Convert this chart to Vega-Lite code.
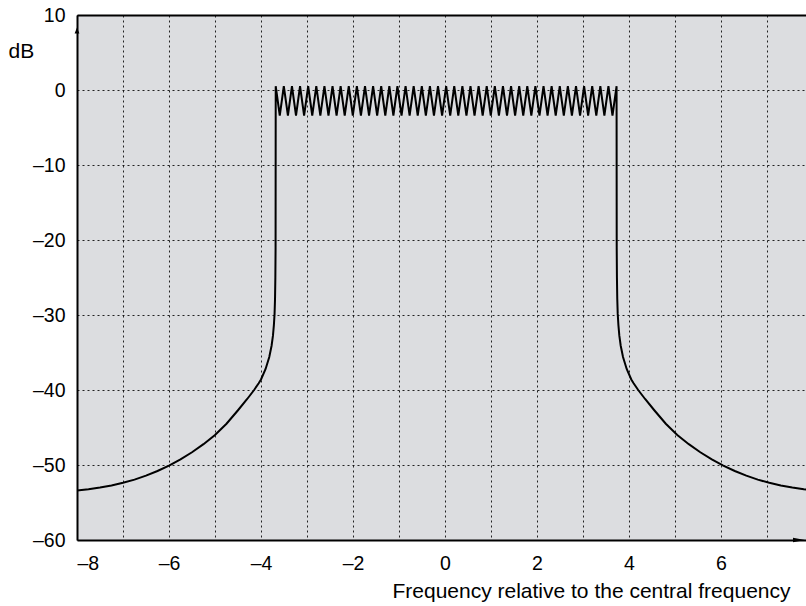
{
  "$schema": "https://vega.github.io/schema/vega-lite/v6.json",
  "autosize": {"type": "none"},
  "padding": {"left": 77, "top": 15, "right": 0, "bottom": 66},
  "width": 729,
  "height": 525,
  "config": {
    "view": {"fill": "#dcdde0", "stroke": null},
    "font": "Liberation Sans",
    "axis": {
      "gridColor": "#000000",
      "gridDash": [2, 3],
      "gridWidth": 1,
      "gridOpacity": 0.85,
      "ticks": false,
      "domainColor": "#000000",
      "domainWidth": 2,
      "labelFontSize": 19.5,
      "labelColor": "#000000",
      "titleFontSize": 21,
      "titleFontWeight": "normal",
      "titleColor": "#000000",
      "labelOverlap": false
    }
  },
  "layer": [
    {
      "data": {
        "values": [
          {"o": 1, "x": -8, "y": -53.4},
          {"o": 2, "x": -7.75, "y": -53.225},
          {"o": 3, "x": -7.5, "y": -53.0},
          {"o": 4, "x": -7.25, "y": -52.725},
          {"o": 5, "x": -7, "y": -52.375},
          {"o": 6, "x": -6.75, "y": -51.95},
          {"o": 7, "x": -6.5, "y": -51.425},
          {"o": 8, "x": -6.25, "y": -50.8},
          {"o": 9, "x": -6, "y": -50.075},
          {"o": 10, "x": -5.75, "y": -49.25},
          {"o": 11, "x": -5.5, "y": -48.3},
          {"o": 12, "x": -5.25, "y": -47.225},
          {"o": 13, "x": -5, "y": -46.0},
          {"o": 14, "x": -4.75, "y": -44.5},
          {"o": 15, "x": -4.5, "y": -42.7},
          {"o": 16, "x": -4.3, "y": -41.2},
          {"o": 17, "x": -4.15, "y": -40.0},
          {"o": 18, "x": -4.05, "y": -39.1},
          {"o": 19, "x": -4.0, "y": -38.6},
          {"o": 20, "x": -3.9, "y": -37.2},
          {"o": 21, "x": -3.82, "y": -35.6},
          {"o": 22, "x": -3.77, "y": -34.1},
          {"o": 23, "x": -3.74, "y": -32.75},
          {"o": 24, "x": -3.72, "y": -31.35},
          {"o": 25, "x": -3.705, "y": -29.85},
          {"o": 26, "x": -3.695, "y": -27.85},
          {"o": 27, "x": -3.688, "y": -25.05},
          {"o": 28, "x": -3.683, "y": -21.05},
          {"o": 100, "x": -3.680, "y": 0.5},
          {"o": 101, "x": -3.592, "y": -3.4},
          {"o": 102, "x": -3.504, "y": 0.5},
          {"o": 103, "x": -3.415, "y": -3.4},
          {"o": 104, "x": -3.327, "y": 0.5},
          {"o": 105, "x": -3.239, "y": -3.4},
          {"o": 106, "x": -3.151, "y": 0.5},
          {"o": 107, "x": -3.063, "y": -3.4},
          {"o": 108, "x": -2.974, "y": 0.5},
          {"o": 109, "x": -2.886, "y": -3.4},
          {"o": 110, "x": -2.798, "y": 0.5},
          {"o": 111, "x": -2.710, "y": -3.4},
          {"o": 112, "x": -2.621, "y": 0.5},
          {"o": 113, "x": -2.533, "y": -3.4},
          {"o": 114, "x": -2.445, "y": 0.5},
          {"o": 115, "x": -2.357, "y": -3.4},
          {"o": 116, "x": -2.269, "y": 0.5},
          {"o": 117, "x": -2.180, "y": -3.4},
          {"o": 118, "x": -2.092, "y": 0.5},
          {"o": 119, "x": -2.004, "y": -3.4},
          {"o": 120, "x": -1.916, "y": 0.5},
          {"o": 121, "x": -1.828, "y": -3.4},
          {"o": 122, "x": -1.739, "y": 0.5},
          {"o": 123, "x": -1.651, "y": -3.4},
          {"o": 124, "x": -1.563, "y": 0.5},
          {"o": 125, "x": -1.475, "y": -3.4},
          {"o": 126, "x": -1.387, "y": 0.5},
          {"o": 127, "x": -1.298, "y": -3.4},
          {"o": 128, "x": -1.210, "y": 0.5},
          {"o": 129, "x": -1.122, "y": -3.4},
          {"o": 130, "x": -1.034, "y": 0.5},
          {"o": 131, "x": -0.945, "y": -3.4},
          {"o": 132, "x": -0.857, "y": 0.5},
          {"o": 133, "x": -0.769, "y": -3.4},
          {"o": 134, "x": -0.681, "y": 0.5},
          {"o": 135, "x": -0.593, "y": -3.4},
          {"o": 136, "x": -0.504, "y": 0.5},
          {"o": 137, "x": -0.416, "y": -3.4},
          {"o": 138, "x": -0.328, "y": 0.5},
          {"o": 139, "x": -0.240, "y": -3.4},
          {"o": 140, "x": -0.152, "y": 0.5},
          {"o": 141, "x": -0.063, "y": -3.4},
          {"o": 142, "x": 0.025, "y": 0.5},
          {"o": 143, "x": 0.113, "y": -3.4},
          {"o": 144, "x": 0.201, "y": 0.5},
          {"o": 145, "x": 0.289, "y": -3.4},
          {"o": 146, "x": 0.378, "y": 0.5},
          {"o": 147, "x": 0.466, "y": -3.4},
          {"o": 148, "x": 0.554, "y": 0.5},
          {"o": 149, "x": 0.642, "y": -3.4},
          {"o": 150, "x": 0.731, "y": 0.5},
          {"o": 151, "x": 0.819, "y": -3.4},
          {"o": 152, "x": 0.907, "y": 0.5},
          {"o": 153, "x": 0.995, "y": -3.4},
          {"o": 154, "x": 1.083, "y": 0.5},
          {"o": 155, "x": 1.172, "y": -3.4},
          {"o": 156, "x": 1.260, "y": 0.5},
          {"o": 157, "x": 1.348, "y": -3.4},
          {"o": 158, "x": 1.436, "y": 0.5},
          {"o": 159, "x": 1.524, "y": -3.4},
          {"o": 160, "x": 1.613, "y": 0.5},
          {"o": 161, "x": 1.701, "y": -3.4},
          {"o": 162, "x": 1.789, "y": 0.5},
          {"o": 163, "x": 1.877, "y": -3.4},
          {"o": 164, "x": 1.965, "y": 0.5},
          {"o": 165, "x": 2.054, "y": -3.4},
          {"o": 166, "x": 2.142, "y": 0.5},
          {"o": 167, "x": 2.230, "y": -3.4},
          {"o": 168, "x": 2.318, "y": 0.5},
          {"o": 169, "x": 2.407, "y": -3.4},
          {"o": 170, "x": 2.495, "y": 0.5},
          {"o": 171, "x": 2.583, "y": -3.4},
          {"o": 172, "x": 2.671, "y": 0.5},
          {"o": 173, "x": 2.759, "y": -3.4},
          {"o": 174, "x": 2.848, "y": 0.5},
          {"o": 175, "x": 2.936, "y": -3.4},
          {"o": 176, "x": 3.024, "y": 0.5},
          {"o": 177, "x": 3.112, "y": -3.4},
          {"o": 178, "x": 3.200, "y": 0.5},
          {"o": 179, "x": 3.289, "y": -3.4},
          {"o": 180, "x": 3.377, "y": 0.5},
          {"o": 181, "x": 3.465, "y": -3.4},
          {"o": 182, "x": 3.553, "y": 0.5},
          {"o": 183, "x": 3.641, "y": -3.4},
          {"o": 184, "x": 3.730, "y": 0.5},
          {"o": 200, "x": 3.733, "y": -21.05},
          {"o": 201, "x": 3.738, "y": -25.05},
          {"o": 202, "x": 3.745, "y": -27.85},
          {"o": 203, "x": 3.755, "y": -29.85},
          {"o": 204, "x": 3.77, "y": -31.35},
          {"o": 205, "x": 3.79, "y": -32.75},
          {"o": 206, "x": 3.82, "y": -34.1},
          {"o": 207, "x": 3.87, "y": -35.6},
          {"o": 208, "x": 3.95, "y": -37.2},
          {"o": 209, "x": 4.05, "y": -38.6},
          {"o": 210, "x": 4.1, "y": -39.1},
          {"o": 211, "x": 4.2, "y": -40.0},
          {"o": 212, "x": 4.35, "y": -41.2},
          {"o": 213, "x": 4.55, "y": -42.7},
          {"o": 214, "x": 4.8, "y": -44.5},
          {"o": 215, "x": 5.05, "y": -46.0},
          {"o": 216, "x": 5.3, "y": -47.225},
          {"o": 217, "x": 5.55, "y": -48.3},
          {"o": 218, "x": 5.8, "y": -49.25},
          {"o": 219, "x": 6.05, "y": -50.075},
          {"o": 220, "x": 6.3, "y": -50.8},
          {"o": 221, "x": 6.55, "y": -51.425},
          {"o": 222, "x": 6.8, "y": -51.95},
          {"o": 223, "x": 7.05, "y": -52.375},
          {"o": 224, "x": 7.3, "y": -52.725},
          {"o": 225, "x": 7.55, "y": -53.0},
          {"o": 226, "x": 7.8, "y": -53.225},
          {"o": 227, "x": 8.05, "y": -53.4}
        ]
      },
      "mark": {"type": "line", "color": "#000000", "strokeWidth": 2, "clip": true},
      "encoding": {
        "x": {
          "field": "x",
          "type": "quantitative",
          "scale": {"domain": [-8, 7.848], "nice": false, "zero": false},
          "axis": {
            "orient": "bottom",
            "values": [-8, -7, -6, -5, -4, -3, -2, -1, 0, 1, 2, 3, 4, 5, 6, 7, 8],
            "grid": true,
            "labelPadding": 14,
            "labelExpr": "datum.value % 2 == 0 ? (datum.value < 0 ? '\u2013' + (-datum.value) : '' + datum.value) : ''",
            "title": "Frequency relative to the central frequency",
            "titleAlign": "right",
            "titleAnchor": "start",
            "titleX": 713,
            "titleY": 57,
            "titleBaseline": "alphabetic"
          }
        },
        "y": {
          "field": "y",
          "type": "quantitative",
          "scale": {"domain": [-60, 10], "nice": false, "zero": false},
          "axis": {
            "values": [-60, -50, -40, -30, -20, -10, 0, 10],
            "grid": true,
            "labelPadding": 12,
            "labelExpr": "datum.value < 0 ? '\u2013' + (-datum.value) : '' + datum.value",
            "title": "dB",
            "titleAngle": 0,
            "titleAlign": "left",
            "titleAnchor": "start",
            "titleX": -69,
            "titleY": 42,
            "titleBaseline": "alphabetic"
          }
        },
        "order": {"field": "o", "type": "quantitative"}
      }
    },
    {
      "data": {"values": [{"x": -8, "y": 7.95, "a": "up"}, {"x": 7.696, "y": -60, "a": "right"}]},
      "mark": {"type": "point", "size": 144, "filled": true, "color": "#000000", "opacity": 1, "clip": false},
      "encoding": {
        "x": {
          "field": "x",
          "type": "quantitative",
          "axis": {"orient": "top", "labels": false, "ticks": false, "grid": false, "domain": true, "domainWidth": 2, "domainColor": "#000000", "title": null}
        },
        "y": {"field": "y", "type": "quantitative"},
        "shape": {
          "field": "a",
          "type": "nominal",
          "scale": {"domain": ["up", "right"], "range": ["M0,-0.5L0.4,0.5L-0.4,0.5Z", "M-1,-0.36L1,0L-1,0.36Z"]},
          "legend": null
        }
      }
    }
  ],
  "resolve": {"axis": {"x": "independent"}}
}
